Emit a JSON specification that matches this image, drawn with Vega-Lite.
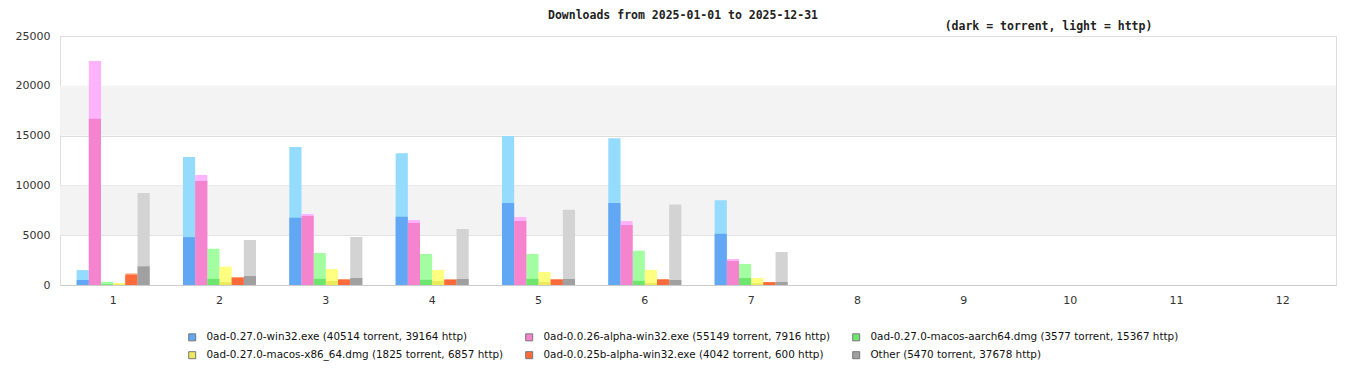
{
  "$schema": "https://vega.github.io/schema/vega-lite/v6.json",
  "width": 1276,
  "height": 249,
  "autosize": {"type": "none"},
  "padding": {"left": 60, "top": 36, "right": 30, "bottom": 95},
  "background": "white",
  "title": {
    "text": "Downloads from 2025-01-01 to 2025-12-31",
    "font": "DejaVu Sans Mono",
    "fontSize": 11.5,
    "fontWeight": "bold",
    "color": "#222222",
    "anchor": "middle",
    "dx": -15,
    "dy": 14,
    "offset": 2,
    "baseline": "bottom"
  },
  "datasets": {
    "bands": [
      {"lo": 5000, "hi": 10000},
      {"lo": 15000, "hi": 20000}
    ],
    "downloads": [
      {"month": 1, "file": "0ad-0.27.0-win32.exe (40514 torrent, 39164 http)", "kind": "torrent", "value": 500},
      {"month": 1, "file": "0ad-0.27.0-win32.exe (40514 torrent, 39164 http)", "kind": "http", "value": 1000},
      {"month": 2, "file": "0ad-0.27.0-win32.exe (40514 torrent, 39164 http)", "kind": "torrent", "value": 4810},
      {"month": 2, "file": "0ad-0.27.0-win32.exe (40514 torrent, 39164 http)", "kind": "http", "value": 8040},
      {"month": 3, "file": "0ad-0.27.0-win32.exe (40514 torrent, 39164 http)", "kind": "torrent", "value": 6740},
      {"month": 3, "file": "0ad-0.27.0-win32.exe (40514 torrent, 39164 http)", "kind": "http", "value": 7120},
      {"month": 4, "file": "0ad-0.27.0-win32.exe (40514 torrent, 39164 http)", "kind": "torrent", "value": 6840},
      {"month": 4, "file": "0ad-0.27.0-win32.exe (40514 torrent, 39164 http)", "kind": "http", "value": 6400},
      {"month": 5, "file": "0ad-0.27.0-win32.exe (40514 torrent, 39164 http)", "kind": "torrent", "value": 8240},
      {"month": 5, "file": "0ad-0.27.0-win32.exe (40514 torrent, 39164 http)", "kind": "http", "value": 6720},
      {"month": 6, "file": "0ad-0.27.0-win32.exe (40514 torrent, 39164 http)", "kind": "torrent", "value": 8240},
      {"month": 6, "file": "0ad-0.27.0-win32.exe (40514 torrent, 39164 http)", "kind": "http", "value": 6500},
      {"month": 7, "file": "0ad-0.27.0-win32.exe (40514 torrent, 39164 http)", "kind": "torrent", "value": 5140},
      {"month": 7, "file": "0ad-0.27.0-win32.exe (40514 torrent, 39164 http)", "kind": "http", "value": 3380},

      {"month": 1, "file": "0ad-0.0.26-alpha-win32.exe (55149 torrent, 7916 http)", "kind": "torrent", "value": 16690},
      {"month": 1, "file": "0ad-0.0.26-alpha-win32.exe (55149 torrent, 7916 http)", "kind": "http", "value": 5800},
      {"month": 2, "file": "0ad-0.0.26-alpha-win32.exe (55149 torrent, 7916 http)", "kind": "torrent", "value": 10440},
      {"month": 2, "file": "0ad-0.0.26-alpha-win32.exe (55149 torrent, 7916 http)", "kind": "http", "value": 600},
      {"month": 3, "file": "0ad-0.0.26-alpha-win32.exe (55149 torrent, 7916 http)", "kind": "torrent", "value": 6930},
      {"month": 3, "file": "0ad-0.0.26-alpha-win32.exe (55149 torrent, 7916 http)", "kind": "http", "value": 200},
      {"month": 4, "file": "0ad-0.0.26-alpha-win32.exe (55149 torrent, 7916 http)", "kind": "torrent", "value": 6230},
      {"month": 4, "file": "0ad-0.0.26-alpha-win32.exe (55149 torrent, 7916 http)", "kind": "http", "value": 300},
      {"month": 5, "file": "0ad-0.0.26-alpha-win32.exe (55149 torrent, 7916 http)", "kind": "torrent", "value": 6430},
      {"month": 5, "file": "0ad-0.0.26-alpha-win32.exe (55149 torrent, 7916 http)", "kind": "http", "value": 400},
      {"month": 6, "file": "0ad-0.0.26-alpha-win32.exe (55149 torrent, 7916 http)", "kind": "torrent", "value": 6020},
      {"month": 6, "file": "0ad-0.0.26-alpha-win32.exe (55149 torrent, 7916 http)", "kind": "http", "value": 410},
      {"month": 7, "file": "0ad-0.0.26-alpha-win32.exe (55149 torrent, 7916 http)", "kind": "torrent", "value": 2410},
      {"month": 7, "file": "0ad-0.0.26-alpha-win32.exe (55149 torrent, 7916 http)", "kind": "http", "value": 200},

      {"month": 1, "file": "0ad-0.27.0-macos-aarch64.dmg (3577 torrent, 15367 http)", "kind": "torrent", "value": 80},
      {"month": 1, "file": "0ad-0.27.0-macos-aarch64.dmg (3577 torrent, 15367 http)", "kind": "http", "value": 250},
      {"month": 2, "file": "0ad-0.27.0-macos-aarch64.dmg (3577 torrent, 15367 http)", "kind": "torrent", "value": 620},
      {"month": 2, "file": "0ad-0.27.0-macos-aarch64.dmg (3577 torrent, 15367 http)", "kind": "http", "value": 3020},
      {"month": 3, "file": "0ad-0.27.0-macos-aarch64.dmg (3577 torrent, 15367 http)", "kind": "torrent", "value": 620},
      {"month": 3, "file": "0ad-0.27.0-macos-aarch64.dmg (3577 torrent, 15367 http)", "kind": "http", "value": 2590},
      {"month": 4, "file": "0ad-0.27.0-macos-aarch64.dmg (3577 torrent, 15367 http)", "kind": "torrent", "value": 520},
      {"month": 4, "file": "0ad-0.27.0-macos-aarch64.dmg (3577 torrent, 15367 http)", "kind": "http", "value": 2590},
      {"month": 5, "file": "0ad-0.27.0-macos-aarch64.dmg (3577 torrent, 15367 http)", "kind": "torrent", "value": 620},
      {"month": 5, "file": "0ad-0.27.0-macos-aarch64.dmg (3577 torrent, 15367 http)", "kind": "http", "value": 2490},
      {"month": 6, "file": "0ad-0.27.0-macos-aarch64.dmg (3577 torrent, 15367 http)", "kind": "torrent", "value": 420},
      {"month": 6, "file": "0ad-0.27.0-macos-aarch64.dmg (3577 torrent, 15367 http)", "kind": "http", "value": 3020},
      {"month": 7, "file": "0ad-0.27.0-macos-aarch64.dmg (3577 torrent, 15367 http)", "kind": "torrent", "value": 700},
      {"month": 7, "file": "0ad-0.27.0-macos-aarch64.dmg (3577 torrent, 15367 http)", "kind": "http", "value": 1410},

      {"month": 1, "file": "0ad-0.27.0-macos-x86_64.dmg (1825 torrent, 6857 http)", "kind": "torrent", "value": 60},
      {"month": 1, "file": "0ad-0.27.0-macos-x86_64.dmg (1825 torrent, 6857 http)", "kind": "http", "value": 140},
      {"month": 2, "file": "0ad-0.27.0-macos-x86_64.dmg (1825 torrent, 6857 http)", "kind": "torrent", "value": 300},
      {"month": 2, "file": "0ad-0.27.0-macos-x86_64.dmg (1825 torrent, 6857 http)", "kind": "http", "value": 1540},
      {"month": 3, "file": "0ad-0.27.0-macos-x86_64.dmg (1825 torrent, 6857 http)", "kind": "torrent", "value": 400},
      {"month": 3, "file": "0ad-0.27.0-macos-x86_64.dmg (1825 torrent, 6857 http)", "kind": "http", "value": 1210},
      {"month": 4, "file": "0ad-0.27.0-macos-x86_64.dmg (1825 torrent, 6857 http)", "kind": "torrent", "value": 400},
      {"month": 4, "file": "0ad-0.27.0-macos-x86_64.dmg (1825 torrent, 6857 http)", "kind": "http", "value": 1110},
      {"month": 5, "file": "0ad-0.27.0-macos-x86_64.dmg (1825 torrent, 6857 http)", "kind": "torrent", "value": 300},
      {"month": 5, "file": "0ad-0.27.0-macos-x86_64.dmg (1825 torrent, 6857 http)", "kind": "http", "value": 1010},
      {"month": 6, "file": "0ad-0.27.0-macos-x86_64.dmg (1825 torrent, 6857 http)", "kind": "torrent", "value": 200},
      {"month": 6, "file": "0ad-0.27.0-macos-x86_64.dmg (1825 torrent, 6857 http)", "kind": "http", "value": 1310},
      {"month": 7, "file": "0ad-0.27.0-macos-x86_64.dmg (1825 torrent, 6857 http)", "kind": "torrent", "value": 165},
      {"month": 7, "file": "0ad-0.27.0-macos-x86_64.dmg (1825 torrent, 6857 http)", "kind": "http", "value": 535},

      {"month": 1, "file": "0ad-0.0.25b-alpha-win32.exe (4042 torrent, 600 http)", "kind": "torrent", "value": 1000},
      {"month": 1, "file": "0ad-0.0.25b-alpha-win32.exe (4042 torrent, 600 http)", "kind": "http", "value": 160},
      {"month": 2, "file": "0ad-0.0.25b-alpha-win32.exe (4042 torrent, 600 http)", "kind": "torrent", "value": 700},
      {"month": 2, "file": "0ad-0.0.25b-alpha-win32.exe (4042 torrent, 600 http)", "kind": "http", "value": 100},
      {"month": 3, "file": "0ad-0.0.25b-alpha-win32.exe (4042 torrent, 600 http)", "kind": "torrent", "value": 500},
      {"month": 3, "file": "0ad-0.0.25b-alpha-win32.exe (4042 torrent, 600 http)", "kind": "http", "value": 100},
      {"month": 4, "file": "0ad-0.0.25b-alpha-win32.exe (4042 torrent, 600 http)", "kind": "torrent", "value": 520},
      {"month": 4, "file": "0ad-0.0.25b-alpha-win32.exe (4042 torrent, 600 http)", "kind": "http", "value": 60},
      {"month": 5, "file": "0ad-0.0.25b-alpha-win32.exe (4042 torrent, 600 http)", "kind": "torrent", "value": 520},
      {"month": 5, "file": "0ad-0.0.25b-alpha-win32.exe (4042 torrent, 600 http)", "kind": "http", "value": 80},
      {"month": 6, "file": "0ad-0.0.25b-alpha-win32.exe (4042 torrent, 600 http)", "kind": "torrent", "value": 520},
      {"month": 6, "file": "0ad-0.0.25b-alpha-win32.exe (4042 torrent, 600 http)", "kind": "http", "value": 80},
      {"month": 7, "file": "0ad-0.0.25b-alpha-win32.exe (4042 torrent, 600 http)", "kind": "torrent", "value": 280},
      {"month": 7, "file": "0ad-0.0.25b-alpha-win32.exe (4042 torrent, 600 http)", "kind": "http", "value": 20},

      {"month": 1, "file": "Other (5470 torrent, 37678 http)", "kind": "torrent", "value": 1870},
      {"month": 1, "file": "Other (5470 torrent, 37678 http)", "kind": "http", "value": 7370},
      {"month": 2, "file": "Other (5470 torrent, 37678 http)", "kind": "torrent", "value": 900},
      {"month": 2, "file": "Other (5470 torrent, 37678 http)", "kind": "http", "value": 3620},
      {"month": 3, "file": "Other (5470 torrent, 37678 http)", "kind": "torrent", "value": 700},
      {"month": 3, "file": "Other (5470 torrent, 37678 http)", "kind": "http", "value": 4120},
      {"month": 4, "file": "Other (5470 torrent, 37678 http)", "kind": "torrent", "value": 600},
      {"month": 4, "file": "Other (5470 torrent, 37678 http)", "kind": "http", "value": 5020},
      {"month": 5, "file": "Other (5470 torrent, 37678 http)", "kind": "torrent", "value": 600},
      {"month": 5, "file": "Other (5470 torrent, 37678 http)", "kind": "http", "value": 6960},
      {"month": 6, "file": "Other (5470 torrent, 37678 http)", "kind": "torrent", "value": 500},
      {"month": 6, "file": "Other (5470 torrent, 37678 http)", "kind": "http", "value": 7580},
      {"month": 7, "file": "Other (5470 torrent, 37678 http)", "kind": "torrent", "value": 300},
      {"month": 7, "file": "Other (5470 torrent, 37678 http)", "kind": "http", "value": 3010}
    ]
  },
  "layer": [
    {
      "data": {"name": "bands"},
      "mark": {"type": "rect", "color": "#f3f3f3"},
      "encoding": {
        "y": {"field": "lo", "type": "quantitative", "scale": {"domain": [0, 25000], "nice": false}},
        "y2": {"field": "hi"}
      }
    },
    {
      "data": {"name": "downloads"},
      "mark": {"type": "bar", "strokeWidth": 0},
      "encoding": {
        "x": {
          "field": "month", "type": "ordinal",
          "scale": {"domain": [1,2,3,4,5,6,7,8,9,10,11,12], "paddingInner": 0.313, "paddingOuter": 0.1565},
          "axis": {"title": null, "labelAngle": 0, "ticks": false, "labelPadding": 9, "domainColor": "#cccccc", "grid": false}
        },
        "xOffset": {
          "field": "file", "type": "nominal",
          "sort": [
            "0ad-0.27.0-win32.exe (40514 torrent, 39164 http)",
            "0ad-0.0.26-alpha-win32.exe (55149 torrent, 7916 http)",
            "0ad-0.27.0-macos-aarch64.dmg (3577 torrent, 15367 http)",
            "0ad-0.27.0-macos-x86_64.dmg (1825 torrent, 6857 http)",
            "0ad-0.0.25b-alpha-win32.exe (4042 torrent, 600 http)",
            "Other (5470 torrent, 37678 http)"
          ],
          "scale": {"paddingInner": 0, "paddingOuter": 0}
        },
        "y": {
          "field": "value", "type": "quantitative", "aggregate": "sum",
          "scale": {"domain": [0, 25000], "nice": false},
          "axis": {
            "title": "(dark = torrent, light = http)",
            "titleAngle": 0, "titleX": 988, "titleY": -10,
            "titleAlign": "center", "titleBaseline": "middle",
            "titleFont": "DejaVu Sans Mono", "titleFontSize": 11.5, "titleFontWeight": "bold", "titleColor": "#222222",
            "values": [0, 5000, 10000, 15000, 20000, 25000],
            "format": "d",
            "ticks": false, "labelPadding": 10, "domain": false,
            "grid": true, "gridColor": "#dddddd"
          }
        },
        "color": {
          "field": "file", "type": "nominal",
          "scale": {
            "domain": [
              "0ad-0.27.0-win32.exe (40514 torrent, 39164 http)",
              "0ad-0.0.26-alpha-win32.exe (55149 torrent, 7916 http)",
              "0ad-0.27.0-macos-aarch64.dmg (3577 torrent, 15367 http)",
              "0ad-0.27.0-macos-x86_64.dmg (1825 torrent, 6857 http)",
              "0ad-0.0.25b-alpha-win32.exe (4042 torrent, 600 http)",
              "Other (5470 torrent, 37678 http)"
            ],
            "range": ["#94dbfe", "#ffb3ff", "#a2fea0", "#ffff80", "#ff9a6e", "#d3d3d3"]
          },
          "legend": null
        }
      }
    },
    {
      "data": {"name": "downloads"},
      "transform": [{"filter": "datum.kind === 'torrent'"}],
      "mark": {"type": "bar", "strokeWidth": 0},
      "encoding": {
        "x": {"field": "month", "type": "ordinal"},
        "xOffset": {
          "field": "file", "type": "nominal",
          "sort": [
            "0ad-0.27.0-win32.exe (40514 torrent, 39164 http)",
            "0ad-0.0.26-alpha-win32.exe (55149 torrent, 7916 http)",
            "0ad-0.27.0-macos-aarch64.dmg (3577 torrent, 15367 http)",
            "0ad-0.27.0-macos-x86_64.dmg (1825 torrent, 6857 http)",
            "0ad-0.0.25b-alpha-win32.exe (4042 torrent, 600 http)",
            "Other (5470 torrent, 37678 http)"
          ]
        },
        "y": {"field": "value", "type": "quantitative"},
        "color": {
          "field": "file", "type": "nominal",
          "scale": {
            "domain": [
              "0ad-0.27.0-win32.exe (40514 torrent, 39164 http)",
              "0ad-0.0.26-alpha-win32.exe (55149 torrent, 7916 http)",
              "0ad-0.27.0-macos-aarch64.dmg (3577 torrent, 15367 http)",
              "0ad-0.27.0-macos-x86_64.dmg (1825 torrent, 6857 http)",
              "0ad-0.0.25b-alpha-win32.exe (4042 torrent, 600 http)",
              "Other (5470 torrent, 37678 http)"
            ],
            "range": ["#62a7f4", "#f484cd", "#6ee66e", "#eaea5a", "#ff6a3a", "#a0a0a0"]
          },
          "legend": {
            "title": null,
            "orient": "none",
            "legendX": 127,
            "legendY": 296,
            "direction": "horizontal",
            "columns": 3,
            "columnPadding": 19,
            "rowPadding": 6,
            "symbolType": "square",
            "symbolSize": 49,
            "symbolStrokeColor": "#777777",
            "symbolStrokeWidth": 1,
            "labelFont": "DejaVu Sans",
            "labelFontSize": 10.4,
            "labelColor": "#111111",
            "labelOffset": 9,
            "labelLimit": 500,
            "padding": 0
          }
        }
      }
    }
  ],
  "resolve": {"scale": {"color": "independent"}},
  "config": {
    "view": {"stroke": "#dddddd"},
    "axis": {"labelFont": "DejaVu Sans", "labelFontSize": 11, "labelColor": "#333333"},
    "bar": {"stroke": null}
  }
}
